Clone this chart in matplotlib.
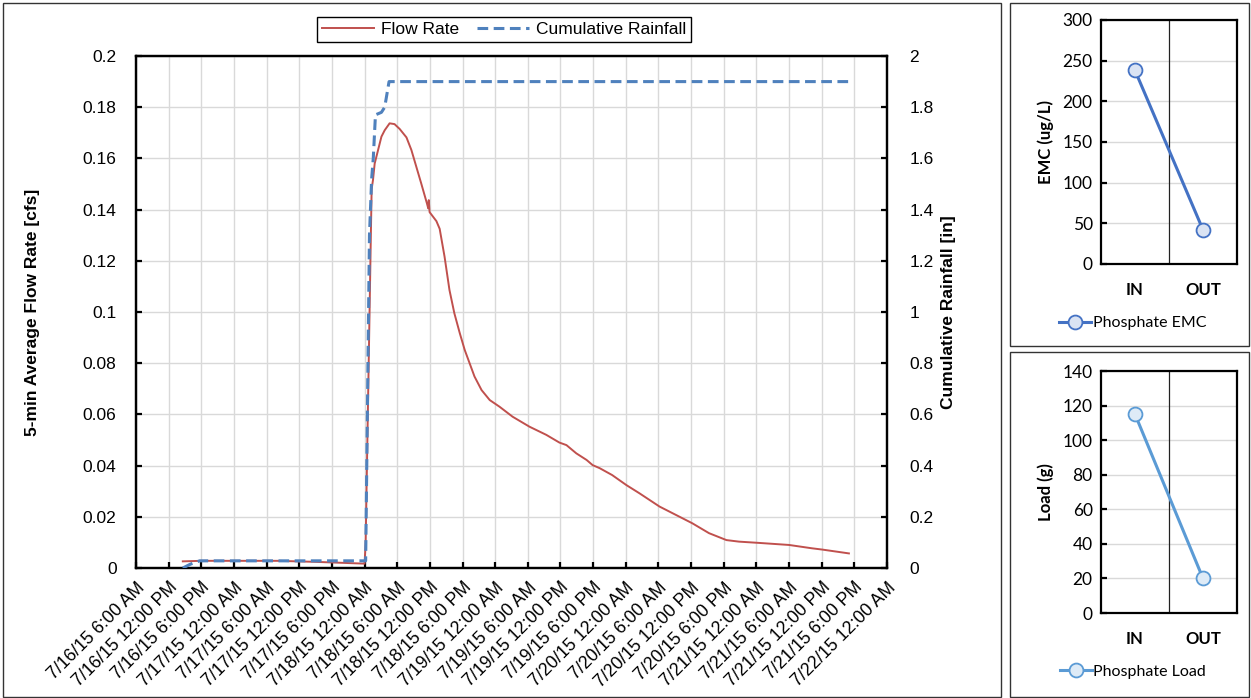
import matplotlib
matplotlib.use("Agg")
import matplotlib.pyplot as plt
import matplotlib.dates as mdates
import matplotlib.ticker as mticker
from matplotlib.patches import Rectangle
from matplotlib.lines import Line2D
import pandas as pd

# time axis: 7/16/15 6:00 AM -> 7/22/15 12:00 AM
start = pd.Timestamp("2015-07-16 06:00")
end = pd.Timestamp("2015-07-22 00:00")

# 5-min average flow rate, hours after start
flow_hours = [8.6, 12.0, 26.0, 33.0, 42.0, 42.2, 43.3, 43.55, 43.86, 45.1, 45.7,
              46.6, 47.5, 48.45, 49.7, 50.6, 51.5, 52.4, 53.45, 53.7, 53.8, 53.95,
              55.2, 55.8, 56.7, 57.6, 58.5, 59.5, 60.4, 61.3, 62.2, 63.5, 65.0,
              66.8, 69.2, 72.3, 75.4, 77.8, 79.1, 80.9, 82.8, 83.9, 85.2, 87.5,
              90.1, 92.5, 96.2, 99.8, 102.2, 105.3, 108.5, 110.8, 114.5, 120.0,
              124.2, 126.1, 131.0]
flow_cfs = [0.0026, 0.0028, 0.0028, 0.0024, 0.0017, 0.01, 0.148, 0.1516, 0.158,
            0.1685, 0.171, 0.1737, 0.1734, 0.1715, 0.1682, 0.1633, 0.1568, 0.1503,
            0.1425, 0.1405, 0.1437, 0.139, 0.1355, 0.1325, 0.1216, 0.1086, 0.0995,
            0.0917, 0.0852, 0.080, 0.0748, 0.0695, 0.0656, 0.063, 0.0591, 0.0552,
            0.052, 0.049, 0.048, 0.0448, 0.0422, 0.0402, 0.039, 0.0363, 0.0324,
            0.0292, 0.024, 0.0201, 0.0175, 0.0136, 0.0109, 0.0103, 0.0098, 0.009,
            0.0077, 0.0072, 0.0057]

# cumulative rainfall, hours after start
rain_hours = [8.6, 10.0, 11.7, 42.2, 42.9, 43.3, 43.6, 44.0, 45.1, 45.7, 46.5, 131.4]
rain_in = [0.0, 0.015, 0.028, 0.028, 1.3, 1.52, 1.6, 1.77, 1.78, 1.80, 1.90, 1.90]

categories = ["IN", "OUT"]
emc_values = [238, 42]
load_values = [115, 20]

RED = "#C0504D"
BLUE = "#4F81BD"
GRID = "#D9D9D9"

fig = plt.figure(figsize=(12.51, 6.98), dpi=100)

# panel frames
for x0, y0, x1, y1 in [(3, 3, 1001, 697), (1010, 3, 1249, 346), (1010, 352, 1249, 697)]:
    fig.add_artist(Rectangle((x0 / 1251, 1 - y1 / 698), (x1 - x0) / 1251, (y1 - y0) / 698,
                             transform=fig.transFigure, fill=False,
                             edgecolor="#333333", lw=1))

# ---- main hydrograph ----
plt.rcParams["font.family"] = ["Liberation Sans", "DejaVu Sans"]
ax = fig.add_axes([136 / 1251, 1 - 568 / 698, 751 / 1251, 512 / 698])
ax2 = ax.twinx()

t_flow = start + pd.to_timedelta(flow_hours, unit="h")
t_rain = start + pd.to_timedelta(rain_hours, unit="h")
ax.plot(t_flow, flow_cfs, color=RED, lw=1.4, zorder=3)
ax2.plot(t_rain, rain_in, color=BLUE, lw=2.2, ls=(0, (3.5, 1.8)), zorder=3)

ax.set_xlim(start, end)
ax.set_ylim(0, 0.2)
ax2.set_ylim(0, 2)
ax.xaxis.set_major_locator(mdates.HourLocator(byhour=[0, 6, 12, 18]))


def fmt_date(v, pos):
    d = mdates.num2date(v)
    h = d.hour % 12 or 12
    ap = "AM" if d.hour < 12 else "PM"
    return f"{d.month}/{d.day}/{d.strftime('%y')} {h}:{d.minute:02d} {ap}"


ax.xaxis.set_major_formatter(mticker.FuncFormatter(fmt_date))
ax.yaxis.set_major_locator(mticker.MultipleLocator(0.02))
ax2.yaxis.set_major_locator(mticker.MultipleLocator(0.2))
ax.yaxis.set_major_formatter(mticker.FuncFormatter(lambda v, p: f"{v:.2f}".rstrip("0").rstrip(".")))
ax2.yaxis.set_major_formatter(mticker.FuncFormatter(lambda v, p: f"{v:.1f}".rstrip("0").rstrip(".")))

ax.grid(True, color=GRID, lw=1)
ax.set_axisbelow(True)
for a in (ax, ax2):
    for s in a.spines.values():
        s.set_linewidth(1.6)
ax.tick_params(axis="both", direction="in", length=4, width=1.6, labelsize=12.5, pad=14)
ax.tick_params(axis="x", pad=8, labelsize=12.8)
ax2.tick_params(axis="y", direction="in", length=4, width=1.6, labelsize=12.5, pad=16)
for lbl in ax.get_xticklabels():
    lbl.set_rotation(45)
    lbl.set_ha("right")
    lbl.set_rotation_mode("anchor")

ax.set_ylabel("5-min Average Flow Rate [cfs]", fontsize=12.5, fontweight="bold")
ax.yaxis.set_label_coords(-0.128, 0.5)
ax2.set_ylabel("Cumulative Rainfall [in]", fontsize=12.5, fontweight="bold", rotation=90)
ax2.yaxis.set_label_coords(1.072, 0.5)

handles = [Line2D([], [], color=RED, lw=1.4),
           Line2D([], [], color=BLUE, lw=2.2, ls=(0, (3.5, 1.8)))]
leg = fig.legend(handles, ["Flow Rate", "Cumulative Rainfall"], loc="center",
                 bbox_to_anchor=(0.403, 0.958), ncol=2, fontsize=12.5, fancybox=False,
                 edgecolor="black", handlelength=3, columnspacing=1.0,
                 handletextpad=0.4, borderpad=0.3, framealpha=1)
leg.get_frame().set_linewidth(1)

# ---- EMC and load panels ----
side = [
    (20, 264, emc_values, 300, 50, "EMC (ug/L)", "#4472C4", "#DAE3F3", "Phosphate EMC", 323),
    (371, 613, load_values, 140, 20, "Load (g)", "#5B9BD5", "#DEEBF7", "Phosphate Load", 672),
]
for top, bot, vals, ymax, step, ylab, col, face, name, leg_y in side:
    sa = fig.add_axes([1101 / 1251, 1 - bot / 698, 136 / 1251, (bot - top) / 698])
    sa.plot(categories, vals, color=col, lw=2.2, marker="o", ms=10,
            mfc=face, mec=col, mew=1.3, label=name, zorder=3)
    sa.set_xlim(-0.5, 1.5)
    sa.set_ylim(0, ymax)
    sa.yaxis.set_major_locator(mticker.MultipleLocator(step))
    sa.grid(True, axis="y", color=GRID, lw=1)
    sa.set_axisbelow(True)
    sa.axvline(0.5, color="#222222", lw=0.9, zorder=2)
    for s in sa.spines.values():
        s.set_linewidth(1.6)
    sa.tick_params(axis="y", direction="in", length=4, width=1.6, pad=6)
    sa.tick_params(axis="x", length=0, pad=13)
    for lbl in sa.get_yticklabels():
        lbl.set_fontfamily("Lato")
        lbl.set_fontsize(12.5)
    for lbl in sa.get_xticklabels():
        lbl.set_fontfamily("Lato")
        lbl.set_fontsize(12)
        lbl.set_fontweight("bold")
    sa.set_ylabel(ylab, fontfamily="Lato", fontsize=12, fontweight="bold", labelpad=6)
    sa.legend(loc="center", bbox_to_anchor=(1133 / 1251, 1 - leg_y / 698),
              bbox_transform=fig.transFigure, frameon=False, handlelength=2,
              handletextpad=0.1, prop={"family": "Lato", "size": 11.5})

fig.savefig("out.png", dpi=100)
